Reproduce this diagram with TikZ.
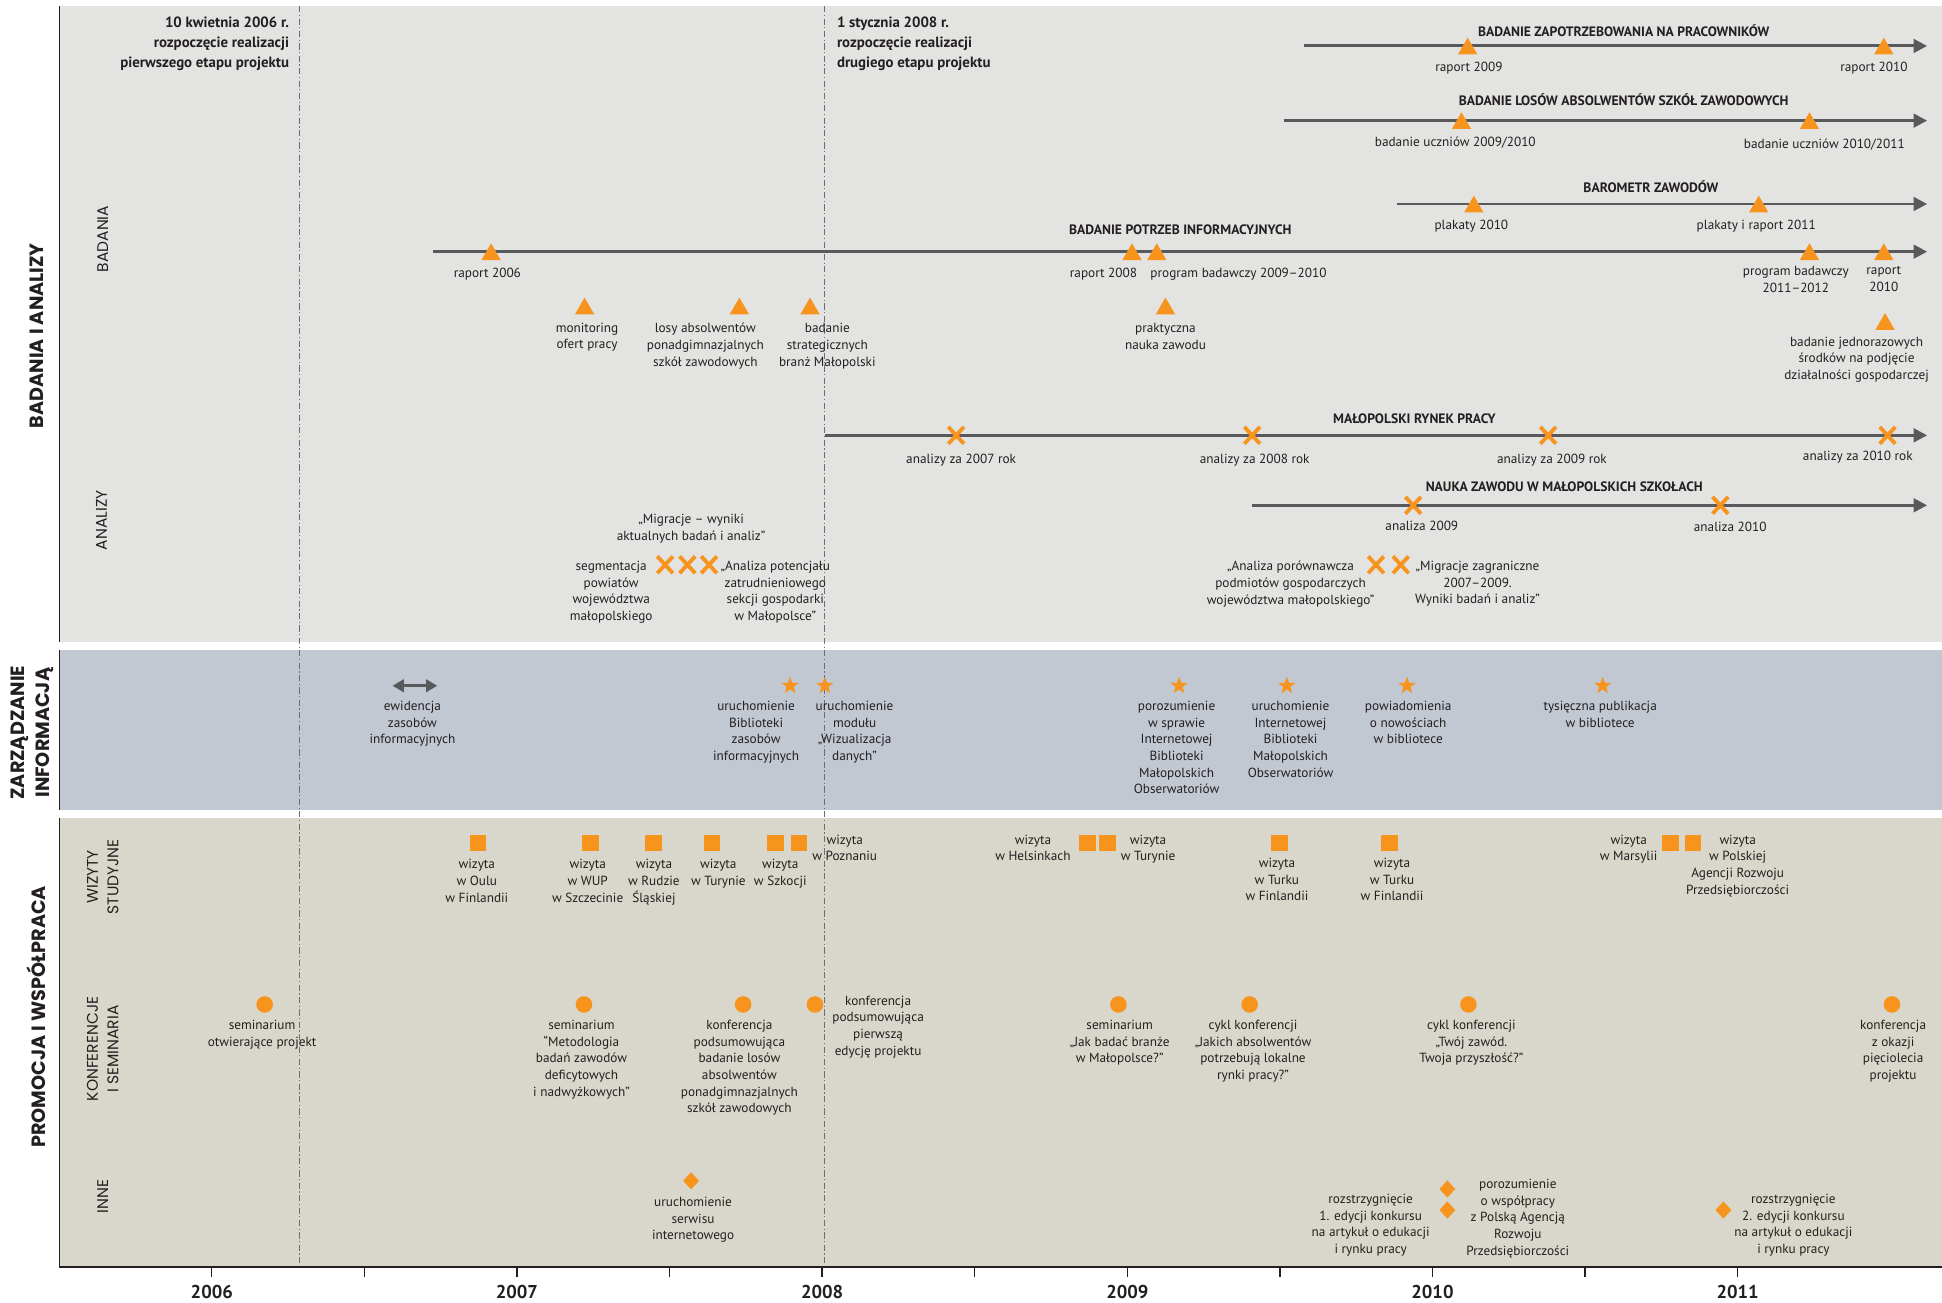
\documentclass[tikz,border=0pt]{standalone}
\usepackage{fontspec}
\setmainfont{PT Sans}
\newfontfamily\capsfont{Poppins}
\usepackage{tikz}
\usetikzlibrary{arrows.meta, shapes.geometric, shapes.misc}
\definecolor{mporange}{HTML}{F7941E}
\definecolor{linegray}{HTML}{58595B}
\definecolor{dashgray}{HTML}{6D6E71}
\definecolor{txtgray}{HTML}{231F20}
\definecolor{panelA}{HTML}{E3E4E1}
\definecolor{panelB}{HTML}{C2C8D2}
\definecolor{panelC}{HTML}{D9D7CC}
\newcommand{\lblfont}{\fontsize{10.7}{13.5}\selectfont}
\tikzset{
    x=1pt, y=-1pt, % one unit is one pixel of the chart, y grows downwards
    tl/.style={draw=linegray, line width=2.4pt, -{Triangle[length=11pt,width=11pt]}}, % timeline bars
    dbl/.style={draw=linegray, line width=2.4pt, {Triangle[length=9pt,width=10pt]}-{Triangle[length=9pt,width=10pt]}},
    stage/.style={draw=dashgray, line width=0.9pt, dash pattern=on 5pt off 2pt on 1pt off 2pt}, % project stages
    tri/.style={regular polygon, regular polygon sides=3, fill=mporange, inner sep=0pt, minimum size=18pt, yshift=-2.25pt},
    xmark/.style={cross out, draw=mporange, line width=3.1pt, minimum width=9.5pt, minimum height=10.5pt, inner sep=0pt},
    starm/.style={star, star points=5, star point ratio=2.4, fill=mporange, inner sep=0pt, minimum size=14.5pt},
    sq/.style={rectangle, fill=mporange, minimum size=13.4pt, inner sep=0pt},
    dot/.style={circle, fill=mporange, minimum size=13.4pt, inner sep=0pt},
    dia/.style={diamond, fill=mporange, minimum width=13pt, minimum height=14pt, inner sep=0pt},
    lbl/.style={font=\lblfont, text=txtgray, align=center, inner sep=0pt, anchor=north, yshift=5.2pt,
        execute at begin node={\rule{0pt}{9pt}}}, % y given = middle of first line
    ttl/.style={font=\bfseries\fontsize{11}{13}\selectfont, text=txtgray, inner sep=0pt, anchor=base},
    datehd/.style={font=\bfseries\fontsize{12}{16.2}\selectfont, text=txtgray, inner sep=0pt,
        execute at begin node={\rule{0pt}{10.5pt}}},
    yr/.style={font=\bfseries\fontsize{15}{18}\selectfont, text=txtgray, inner sep=0pt, anchor=base},
    side/.style={font=\capsfont\bfseries\fontsize{15.5}{19}\selectfont, text=txtgray, rotate=90, align=center, inner sep=0pt},
    sub/.style={font=\capsfont\fontsize{12.5}{16.5}\selectfont, text=txtgray, rotate=90, align=center, inner sep=0pt},
}

\begin{document}
\begin{tikzpicture}
\useasboundingbox[fill=white] (0,0) rectangle (1568,1052);
% panels
\fill[panelA] (48,5) rectangle (1568,518.5);
\fill[panelB] (48,525) rectangle (1568,654);
\fill[panelC] (48,660.5) rectangle (1568,1023);
\foreach \a/\b in {5/518.5, 525/654, 660.5/1023}
    \draw[line width=1.3pt, txtgray] (48,\a) -- (48,\b);
\draw[stage] (241.5,5) -- (241.5,1023);
\draw[stage] (665.5,5) -- (665.5,1023);
% time axis
\draw[line width=1.5pt, txtgray] (48,1023) -- (1568,1023);
\foreach \i in {0,...,10}
    \draw[line width=1.1pt, txtgray] (171+123.2*\i,1023) -- ++(0,8);
\foreach \yr [count=\i from 0] in {2006,...,2011}
    \node[yr] (y\yr) at (171+246.4*\i,1048.4) {\yr};

% section labels
\node[side] (secBA) at (30,271) {BADANIA I ANALIZY};
\node[side, font=\capsfont\bfseries\fontsize{15.5}{20}\selectfont] (secZI) at (26,591.6) {ZARZĄDZANIE\\INFORMACJĄ};
\node[side] (secPW) at (29,821) {PROMOCJA I WSPÓŁPRACA};
\node[sub] (subB) at (83,193) {BADANIA};
\node[sub] (subA) at (82,420) {ANALIZY};
\node[sub] (subW) at (83,708) {WIZYTY\\STUDYJNE};
\node[sub] (subK) at (83,847) {KONFERENCJE\\I SEMINARIA};
\node[sub] (subI) at (83,966) {INNE};

% project stages
\node[datehd, anchor=north east, align=right] (etap1) at (233.6,13.2) {10 kwietnia 2006 r.\\rozpoczęcie realizacji\\pierwszego etapu projektu};
\node[datehd, anchor=north west, align=left] (etap2) at (675.6,13.2) {1 stycznia 2008 r.\\rozpoczęcie realizacji\\drugiego etapu projektu};

% BADANIA
\coordinate (zapS) at (1053,37.1);  \coordinate (zapE) at (1556,37.1);
\coordinate (losS) at (1037,97.4);  \coordinate (losE) at (1556,97.4);
\coordinate (barS) at (1128,164.7); \coordinate (barE) at (1556,164.7);
\coordinate (potS) at (350,203.2);  \coordinate (potE) at (1556,203.2);
\draw[tl] (zapS) -- (zapE);
\draw[tl] (losS) -- (losE);
\draw[tl] (barS) -- (barE);
\draw[tl] (potS) -- (potE);
\node[ttl] (zapT) at (1311,29.8) {BADANIE ZAPOTRZEBOWANIA NA PRACOWNIKÓW};
\node[ttl] (losT) at (1311,85.4) {BADANIE LOSÓW ABSOLWENTÓW SZKÓŁ ZAWODOWYCH};
\node[ttl] (barT) at (1333,155.8) {BAROMETR ZAWODÓW};
\node[ttl] (potT) at (953,189.5) {BADANIE POTRZEB INFORMACYJNYCH};

\node[tri] (zap09) at (1185,37.1) {};
\node[tri] (zap10) at (1521,37.1) {};
\node[tri] (los0910) at (1180,97.4) {};
\node[tri] (los1011) at (1461,97.4) {};
\node[tri] (bar10) at (1190,164.7) {};
\node[tri] (bar11) at (1420,164.7) {};
\node[tri] (pot06) at (396.5,203.2) {};
\node[tri] (pot08) at (914,203.2) {};
\node[tri] (pot0910) at (934,203.2) {};
\node[tri] (pot1112) at (1461,203.2) {};
\node[tri] (pot10) at (1521,203.2) {};
\node[tri] (mon) at (472,247) {};
\node[tri] (losy) at (597,247) {};
\node[tri] (bran) at (654,247) {};
\node[tri] (prak) at (941,247) {};
\node[tri] (jedn) at (1522,259.5) {};

\node[lbl] (zap09l) at (1186,53.8) {raport 2009};
\node[lbl] (zap10l) at (1513,53.8) {raport 2010};
\node[lbl] (los0910l) at (1175,114.4) {badanie uczniów 2009/2010};
\node[lbl] (los1011l) at (1473,115.7) {badanie uczniów 2010/2011};
\node[lbl] (bar10l) at (1188,181) {plakaty 2010};
\node[lbl] (bar11l) at (1418,181) {plakaty i raport 2011};
\node[lbl] (pot06l) at (393.5,220.2) {raport 2006};
\node[lbl] (pot08l) at (891,220.2) {raport 2008};
\node[lbl] (pot0910l) at (1000,220.2) {program badawczy 2009–2010};
\node[lbl] (pot1112l) at (1450,220.2) {program badawczy\\2011–2012};
\node[lbl] (pot10l) at (1521,220.2) {raport\\2010};
\node[lbl] (monl) at (474,265.6) {monitoring\\ofert pracy};
\node[lbl] (losyl) at (569.5,266) {losy absolwentów\\ponadgimnazjalnych\\szkół zawodowych};
\node[lbl] (branl) at (668,266) {badanie\\strategicznych\\branż Małopolski};
\node[lbl] (prakl) at (941,266) {praktyczna\\nauka zawodu};
\node[lbl] (jednl) at (1499,277) {badanie jednorazowych\\środków na podjęcie\\działalności gospodarczej};

% ANALIZY
\coordinate (rynS) at (666,351.5);  \coordinate (rynE) at (1556,351.5);
\coordinate (nauS) at (1011,408);   \coordinate (nauE) at (1556,408);
\draw[tl] (rynS) -- (rynE);
\draw[tl] (nauS) -- (nauE);
\node[ttl] (rynT) at (1142,341.8) {MAŁOPOLSKI RYNEK PRACY};
\node[ttl] (nauT) at (1263,396.8) {NAUKA ZAWODU W MAŁOPOLSKICH SZKOŁACH};

\node[xmark] (ryn07) at (772,351.5) {};
\node[xmark] (ryn08) at (1011,351.5) {};
\node[xmark] (ryn09) at (1250,351.5) {};
\node[xmark] (ryn10) at (1524,351.5) {};
\node[xmark] (nau09) at (1141,408) {};
\node[xmark] (nau10) at (1389,408) {};
\node[xmark] (seg) at (537,456) {};
\node[xmark] (mig) at (555,456) {};
\node[xmark] (zatr) at (572.5,456) {};
\node[xmark] (porow) at (1111,456) {};
\node[xmark] (zagr) at (1131,456) {};

\node[lbl] (ryn07l) at (776,370) {analizy za 2007 rok};
\node[lbl] (ryn08l) at (1013,370) {analizy za 2008 rok};
\node[lbl] (ryn09l) at (1253,370) {analizy za 2009 rok};
\node[lbl] (ryn10l) at (1500,368) {analizy za 2010 rok};
\node[lbl] (nau09l) at (1148,424) {analiza 2009};
\node[lbl] (nau10l) at (1397,425) {analiza 2010};
\node[lbl] (segl) at (493.5,458) {segmentacja\\powiatów\\województwa\\małopolskiego};
\node[lbl] (migl) at (558,420) {„Migracje – wyniki\\aktualnych badań i analiz”};
\node[lbl] (zatrl) at (626,458) {„Analiza potencjału\\zatrudnieniowego\\sekcji gospodarki\\w Małopolsce”};
\node[lbl] (porowl) at (1042,458) {„Analiza porównawcza\\podmiotów gospodarczych\\województwa małopolskiego”};
\node[lbl] (zagrl) at (1193,458) {„Migracje zagraniczne\\2007–2009.\\Wyniki badań i analiz”};

% ZARZADZANIE INFORMACJA
\coordinate (ewL) at (317,553.7); \coordinate (ewR) at (353,553.7);
\draw[dbl] (ewL) -- (ewR);
\node[starm] (bib) at (638,553.7) {};
\node[starm] (modul) at (666,553.7) {};
\node[starm] (poroz) at (952,553.7) {};
\node[starm] (ibmo) at (1039,553.7) {};
\node[starm] (powiad) at (1136,553.7) {};
\node[starm] (tys) at (1294,553.7) {};
\node[lbl] (ewl) at (333,571) {ewidencja\\zasobów\\informacyjnych};
\node[lbl] (bibl) at (610.5,571) {uruchomienie\\Biblioteki\\zasobów\\informacyjnych};
\node[lbl] (modull) at (690,571) {uruchomienie\\modułu\\„Wizualizacja\\danych”};
\node[lbl] (porozl) at (950,571) {porozumienie\\w sprawie\\Internetowej\\Biblioteki\\Małopolskich\\Obserwatoriów};
\node[lbl] (ibmol) at (1042,571) {uruchomienie\\Internetowej\\Biblioteki\\Małopolskich\\Obserwatoriów};
\node[lbl] (powiadl) at (1137,571) {powiadomienia\\o nowościach\\w bibliotece};
\node[lbl] (tysl) at (1292,571) {tysięczna publikacja\\w bibliotece};

% WIZYTY STUDYJNE
\foreach \n/\x in {w1/386, w2/476.7, w3/527.6, w4/575, w5/626, w6/645, w7/878, w8/894, w9/1033, w10/1122, w11/1349, w12/1367}
    \node[sq] (\n) at (\x,680.5) {};
\node[lbl] (w1l) at (385,699) {wizyta\\w Oulu\\w Finlandii};
\node[lbl] (w2l) at (474.5,699) {wizyta\\w WUP\\w Szczecinie};
\node[lbl] (w3l) at (528,699) {wizyta\\w Rudzie\\Śląskiej};
\node[lbl] (w4l) at (580,699) {wizyta\\w Turynie};
\node[lbl] (w5l) at (630,699) {wizyta\\w Szkocji};
\node[lbl] (w6l) at (682,679) {wizyta\\w Poznaniu};
\node[lbl] (w7l) at (834,679) {wizyta\\w Helsinkach};
\node[lbl] (w8l) at (927,679) {wizyta\\w Turynie};
\node[lbl] (w9l) at (1031,697.7) {wizyta\\w Turku\\w Finlandii};
\node[lbl] (w10l) at (1124,697.7) {wizyta\\w Turku\\w Finlandii};
\node[lbl] (w11l) at (1315,679) {wizyta\\w Marsylii};
\node[lbl] (w12l) at (1403,679) {wizyta\\w Polskiej\\Agencji Rozwoju\\Przedsiębiorczości};

% KONFERENCJE I SEMINARIA
\foreach \n/\x in {k1/213.7, k2/471.5, k3/600, k4/658, k5/903, k6/1009, k7/1185.6, k8/1527.6}
    \node[dot] (\n) at (\x,811) {};
\node[lbl] (k1l) at (211.6,828.5) {seminarium\\otwierające projekt};
\node[lbl] (k2l) at (469.5,828.5) {seminarium\\“Metodologia\\badań zawodów\\deficytowych\\i nadwyżkowych”};
\node[lbl] (k3l) at (597,828.5) {konferencja\\podsumowująca\\badanie losów\\absolwentów\\ponadgimnazjalnych\\szkół zawodowych};
\node[lbl] (k4l) at (709,809) {konferencja\\podsumowująca\\pierwszą\\edycję projektu};
\node[lbl] (k5l) at (904,828.5) {seminarium\\„Jak badać branże\\w Małopolsce?”};
\node[lbl] (k6l) at (1011.7,828.5) {cykl konferencji\\„Jakich absolwentów\\potrzebują lokalne\\rynki pracy?”};
\node[lbl] (k7l) at (1188,828.5) {cykl konferencji\\„Twój zawód.\\Twoja przyszłość?”};
\node[lbl] (k8l) at (1528.5,828.5) {konferencja\\z okazji\\pięciolecia\\projektu};

% INNE
\node[dia] (serwis) at (558,953.4) {};
\node[dia] (parp) at (1168.6,960) {};
\node[dia] (konk1) at (1168.6,977) {};
\node[dia] (konk2) at (1391.5,977) {};
\node[lbl] (serwisl) at (559.6,971.6) {uruchomienie\\serwisu\\internetowego};
\node[lbl] (konk1l) at (1106.7,969) {rozstrzygnięcie\\1. edycji konkursu\\na artykuł o edukacji\\i rynku pracy};
\node[lbl] (parpl) at (1225.5,957) {porozumienie\\o współpracy\\z Polską Agencją\\Rozwoju\\Przedsiębiorczości};
\node[lbl] (konk2l) at (1448,969) {rozstrzygnięcie\\2. edycji konkursu\\na artykuł o edukacji\\i rynku pracy};
\end{tikzpicture}
\end{document}
